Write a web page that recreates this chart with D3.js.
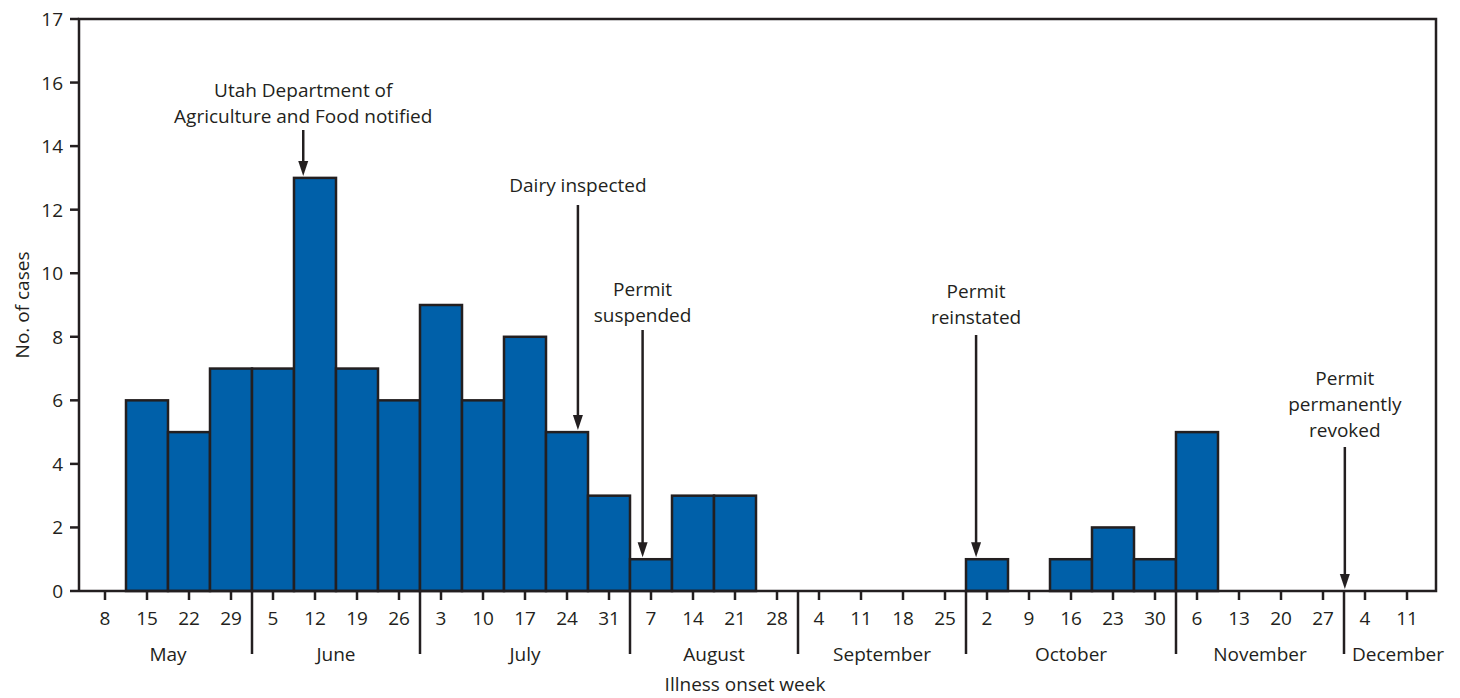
<!DOCTYPE html>
<html>
<head>
<meta charset="utf-8">
<script src="https://cdn.jsdelivr.net/npm/d3@7"></script>
<style>
  body { margin: 0; background: #fff; }
  text { font-family: "Open Sans", "Noto Sans", sans-serif; fill: #231f20; }
</style>
</head>
<body>
<div id="chart-container"></div>
<script>
// week start dates (day of month) for each illness onset week
const weekLabels = ["8", "15", "22", "29", "5", "12", "19", "26", "3", "10", "17", "24", "31",
  "7", "14", "21", "28", "4", "11", "18", "25", "2", "9", "16", "23", "30",
  "6", "13", "20", "27", "4", "11"];
const cases = [0, 6, 5, 7, 7, 13, 7, 6, 9, 6, 8, 5, 3, 1, 3, 3, 0, 0, 0, 0, 0, 1, 0, 1, 2, 1, 5, 0, 0, 0, 0, 0];
const monthNames = ["May", "June", "July", "August", "September", "October", "November", "December"];
const monthWeekCounts = [4, 4, 5, 4, 4, 5, 4, 2];
const yTickValues = [0, 2, 4, 6, 8, 10, 12, 14, 16, 18];
const yTickLabels = ["0", "2", "4", "6", "8", "10", "12", "14", "16", "17"];

// events: text lines and position in weeks (index of week band, fractional)
const eventLines = [
  ["Utah Department of", "Agriculture and Food notified"],
  ["Dairy inspected"],
  ["Permit", "suspended"],
  ["Permit", "reinstated"],
  ["Permit", "permanently", "revoked"]
];
const eventWeek = [4.72, 11.26, 12.8, 20.74, 29.52];

const width = 1460;
const height = 698;
const margin = { top: 19, right: 24, bottom: 107, left: 79 };

const x = d3.scaleBand()
  .domain(d3.range(weekLabels.length))
  .range([84, 1428])
  .padding(0);
const step = x.step();
const xPos = (w) => x(0) + (w + 0.5) * step;

const y = d3.scaleLinear()
  .domain([0, 18])
  .range([height - margin.bottom, margin.top]);

const y0 = y(0);
const frameLeft = margin.left;
const frameRight = 1436;
const ink = "#231f20";

const svg = d3.select("#chart-container")
  .append("svg")
  .attr("width", width)
  .attr("height", height);

// bars
svg.append("g")
  .selectAll("rect")
  .data(cases.map((v, i) => ({ v, i })).filter((d) => d.v > 0))
  .enter()
  .append("rect")
  .attr("x", (d) => x(d.i))
  .attr("y", (d) => y(d.v))
  .attr("width", x.bandwidth())
  .attr("height", (d) => y0 - y(d.v))
  .style("fill", "#0060a9")
  .style("stroke", ink)
  .style("stroke-width", 2.5);

// frame
svg.append("path")
  .attr("d", `M${frameLeft},${y0}V${y(18)}H${frameRight}V${y0}H${frameLeft}`)
  .style("fill", "none")
  .style("stroke", ink)
  .style("stroke-width", 2.5);

// y ticks
const yg = svg.append("g");
yTickValues.forEach((v, i) => {
  yg.append("line")
    .attr("x1", frameLeft - 9).attr("x2", frameLeft)
    .attr("y1", y(v)).attr("y2", y(v))
    .style("stroke", ink).style("stroke-width", 2.5);
  yg.append("text")
    .attr("x", frameLeft - 16)
    .attr("y", y(v) + 7)
    .attr("text-anchor", "end")
    .style("font-size", "19px")
    .text(yTickLabels[i]);
});

// x ticks
const xg = svg.append("g");
weekLabels.forEach((lab, i) => {
  const cx = x(i) + step / 2;
  xg.append("line")
    .attr("x1", cx).attr("x2", cx)
    .attr("y1", y0).attr("y2", y0 + 9)
    .style("stroke", ink).style("stroke-width", 2.5);
  xg.append("text")
    .attr("x", cx)
    .attr("y", y0 + 34)
    .attr("text-anchor", "middle")
    .style("font-size", "19px")
    .text(lab);
});

// month separators and labels
let start = 0;
monthNames.forEach((m, i) => {
  const end = start + monthWeekCounts[i];
  const xs = x(start);
  const xe = end < weekLabels.length ? x(end) : frameRight + 16;
  if (end < weekLabels.length) {
    xg.append("line")
      .attr("x1", xe).attr("x2", xe)
      .attr("y1", y0).attr("y2", y0 + 63)
      .style("stroke", ink).style("stroke-width", 2.5);
  }
  xg.append("text")
    .attr("x", (xs + xe) / 2)
    .attr("y", y0 + 70)
    .attr("text-anchor", "middle")
    .style("font-size", "19px")
    .text(m);
  start = end;
});

// axis titles
svg.append("text")
  .attr("transform", `translate(29,${(y0 + y(18)) / 2}) rotate(-90)`)
  .attr("text-anchor", "middle")
  .style("font-size", "19px")
  .text("No. of cases");

svg.append("text")
  .attr("x", 745)
  .attr("y", 691)
  .attr("text-anchor", "middle")
  .style("font-size", "19px")
  .text("Illness onset week");

// label placement (first baseline, arrow top) in pixels
const labelBaseline = [97, 192, 296, 298, 385];
const arrowTop = [130, 205, 330, 335, 447];
const lineGap = 26;

const ag = svg.append("g");
eventLines.forEach((lines, i) => {
  const ax = xPos(eventWeek[i]);
  const wi = Math.floor(eventWeek[i] + 0.5);
  const tip = y(cases[wi] || 0) - 2;
  ag.append("line")
    .attr("x1", ax).attr("x2", ax)
    .attr("y1", arrowTop[i]).attr("y2", tip - 12)
    .style("stroke", ink).style("stroke-width", 2.5);
  ag.append("path")
    .attr("d", `M${ax - 5},${tip - 15}L${ax + 5},${tip - 15}L${ax},${tip}Z`)
    .style("fill", ink);
  lines.forEach((t, j) => {
    ag.append("text")
      .attr("x", ax)
      .attr("y", labelBaseline[i] + j * lineGap)
      .attr("text-anchor", "middle")
      .style("font-size", "19px")
      .text(t);
  });
});
</script>
</body>
</html>
